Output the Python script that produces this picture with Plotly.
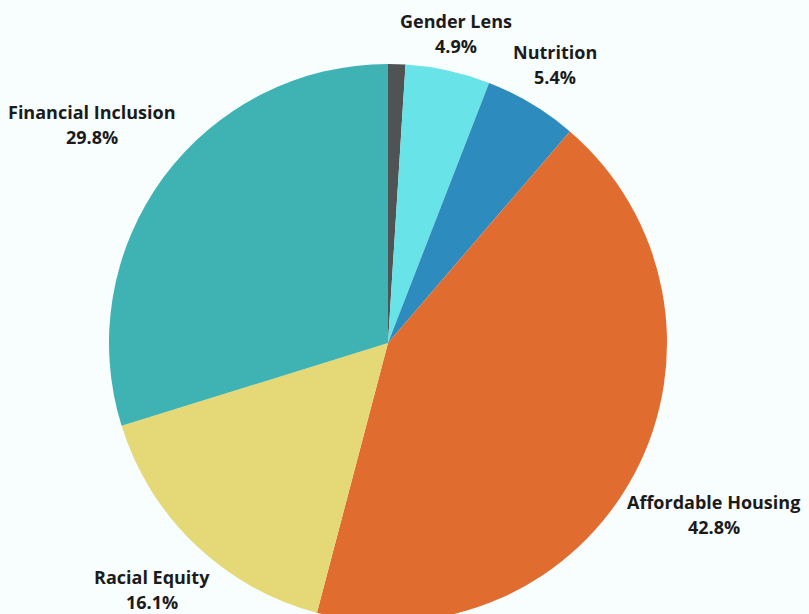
import math
import plotly.graph_objects as go

labels = ["Other", "Gender Lens", "Nutrition", "Affordable Housing", "Racial Equity", "Financial Inclusion"]
values = [1.0, 4.9, 5.4, 42.8, 16.1, 29.8]
colors = ["#4f5354", "#68e3e8", "#2e8bbd", "#e06c30", "#e5d876", "#3fb2b3"]
show_label = [False, True, True, True, True, True]

W, H = 809, 640
CX, CY, R = 388, 343, 279
FONT = "Open Sans"
FSIZE = 18
LINE_GAP = 25

fig = go.Figure(go.Pie(
    labels=labels, values=values, sort=False, direction="clockwise", rotation=0,
    marker=dict(colors=colors, line=dict(width=0)),
    textinfo="none", hoverinfo="label+percent", showlegend=False,
    domain=dict(x=[(CX - R) / W, (CX + R) / W], y=[1 - (CY + R) / H, 1 - (CY - R) / H]),
))

total = sum(values)
cum = 0.0
annotations = []
for lab, v, show in zip(labels, values, show_label):
    mid = (cum + v / 2) / total * 2 * math.pi
    cum += v
    if not show:
        continue
    pct = f"{v / total * 100:.1f}%"
    s, c = math.sin(mid), math.cos(mid)
    w = len(lab) * 9.3
    h = 50
    dist = R + 3 + abs(s) * w / 2 + abs(c) * h / 2
    px = CX + s * dist
    py = CY - c * dist
    for txt, off in ((lab, -LINE_GAP / 2), (pct, LINE_GAP / 2)):
        annotations.append(dict(
            x=px / W, y=1 - (py + off) / H, xref="paper", yref="paper",
            text=f"<b>{txt}</b>", showarrow=False,
            xanchor="center", yanchor="middle", align="center",
            font=dict(family=FONT, size=FSIZE, color="#1b1b1b"),
        ))

fig.update_layout(
    width=W, height=H, margin=dict(l=0, r=0, t=0, b=0),
    paper_bgcolor="#f8fdfd", plot_bgcolor="#f8fdfd",
    annotations=annotations,
)

fig.write_html("out.html", post_script="document.body.style.overflow='hidden';document.documentElement.style.overflow='hidden';document.body.style.margin='0';")
